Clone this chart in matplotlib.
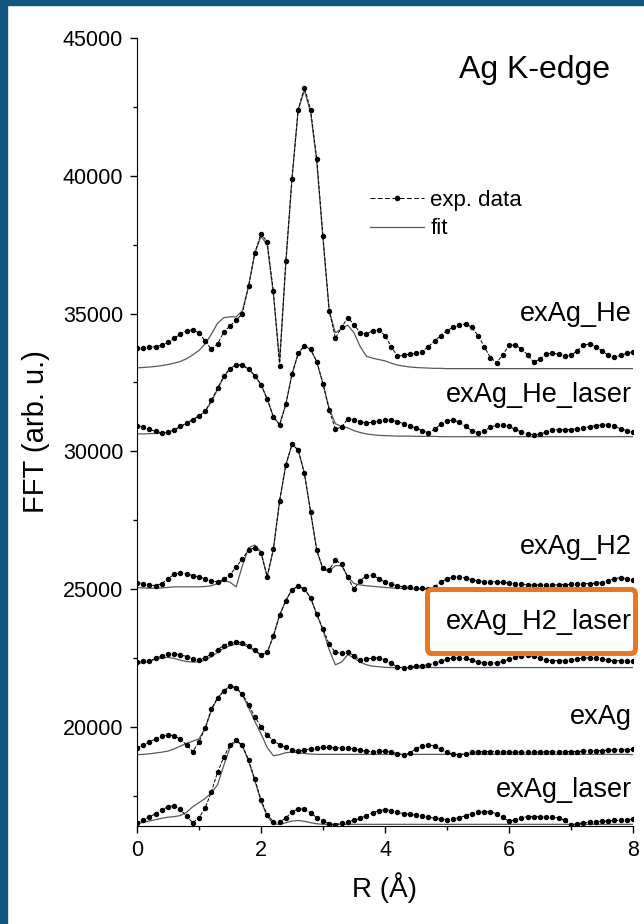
import numpy as np
import matplotlib
matplotlib.use('Agg')
import matplotlib.pyplot as plt
from matplotlib.patches import Rectangle, FancyBboxPatch
from matplotlib.lines import Line2D

plt.rcParams['font.family'] = ['Liberation Sans', 'DejaVu Sans']

# R grid (Angstrom), 0.1 step
r = np.round(np.arange(0, 81) * 0.1, 1)

# exAg_He
he_exp = [33750, 33750, 33770, 33800, 33850, 33950, 34100, 34250, 34380, 34400,
          34300, 34000, 33700, 33900, 34330, 34550, 34750, 35000, 36000, 37200,
          37900, 37600, 35800, 33100, 36900, 39900, 42400, 43200, 42400, 40600,
          37800, 35100, 34100, 34500, 34850, 34600, 34300, 34250, 34380, 34400,
          34200, 33800, 33450, 33480, 33530, 33560, 33620, 33800, 34000, 34200,
          34380, 34500, 34580, 34620, 34500, 34200, 33800, 33400, 33220, 33500,
          33850, 33850, 33720, 33500, 33230, 33350, 33530, 33570, 33520, 33450,
          33480, 33650, 33850, 33900, 33800, 33650, 33480, 33420, 33480, 33560,
          33620]
he_fit = [33030, 33040, 33060, 33080, 33110, 33150, 33200, 33260, 33360, 33500,
          33660, 33900, 34250, 34650, 34850, 34880, 34880, 35100, 36000, 37200,
          37800, 37500, 35700, 33300, 36800, 39900, 42400, 43100, 42300, 40500,
          37700, 35100, 34300, 34450, 34580, 34300, 33800, 33450, 33380, 33330,
          33280, 33200, 33130, 33090, 33060, 33040, 33030, 33020, 33010, 33010,
          33000, 33000, 33000, 33000, 33000, 33000, 33000, 33000, 33000, 33000,
          33000, 33000, 33000, 33000, 33000, 33000, 33000, 33000, 33000, 33000,
          33000, 33000, 33000, 33000, 33000, 33000, 33000, 33000, 33000, 33000,
          33000]

# exAg_He_laser
hel_exp = [30920, 30880, 30800, 30720, 30670, 30690, 30780, 30900, 31020, 31150,
           31280, 31450, 31850, 32300, 32720, 33000, 33130, 33120, 32980, 32750,
           32420, 31900, 31250, 30950, 31700, 32800, 33550, 33830, 33700, 33250,
           32450, 31500, 30800, 30880, 31180, 31150, 31080, 31030, 31050, 31100,
           31140, 31130, 31080, 31000, 30920, 30850, 30750, 30670, 30800, 30980,
           31100, 31140, 31050, 30900, 30750, 30680, 30750, 30870, 30950, 30960,
           30900, 30800, 30700, 30630, 30600, 30620, 30700, 30760, 30790, 30780,
           30790, 30820, 30850, 30890, 30930, 30960, 30960, 30900, 30820, 30750,
           30700]
hel_fit = [30630, 30630, 30640, 30650, 30660, 30690, 30780, 30900, 31020, 31150,
           31280, 31450, 31800, 32250, 32700, 33000, 33150, 33130, 32980, 32750,
           32420, 31900, 31250, 30980, 31700, 32800, 33550, 33830, 33700, 33250,
           32450, 31550, 31000, 30900, 30850, 30750, 30680, 30630, 30600, 30580,
           30570, 30560, 30550, 30550, 30550, 30540, 30540, 30540, 30540, 30530,
           30530, 30530, 30530, 30530, 30530, 30530, 30530, 30530, 30530, 30530,
           30530, 30530, 30530, 30530, 30530, 30530, 30530, 30530, 30530, 30530,
           30530, 30530, 30530, 30530, 30530, 30530, 30530, 30530, 30530, 30530,
           30530]

# exAg_H2
h2_exp = [25230, 25200, 25150, 25120, 25200, 25380, 25530, 25590, 25560, 25490,
          25440, 25380, 25300, 25260, 25350, 25520, 25800, 26100, 26420, 26500,
          26300, 25450, 26450, 28200, 29500, 30250, 30050, 29200, 27800, 26400,
          25750, 25700, 26050, 25900, 25420, 25000, 25300, 25480, 25500, 25380,
          25250, 25180, 25120, 25080, 25060, 25050, 25030, 24990, 25080, 25250,
          25380, 25420, 25430, 25400, 25340, 25300, 25270, 25260, 25260, 25240,
          25220, 25200, 25170, 25150, 25140, 25150, 25150, 25150, 25150, 25160,
          25170, 25180, 25190, 25200, 25210, 25230, 25300, 25380, 25410, 25380,
          25340]
h2_fit = [25050, 25040, 25030, 25030, 25040, 25060, 25080, 25080, 25080, 25080,
          25080, 25090, 25120, 25200, 25300, 25250, 25080, 25850, 26500, 26600,
          26350, 25450, 26450, 28200, 29500, 30250, 30050, 29200, 27800, 26400,
          25700, 25650, 25850, 25850, 25450, 25200, 25150, 25120, 25100, 25080,
          25060, 25040, 25030, 25020, 25010, 25000, 25000, 25000, 25000, 25000,
          25000, 25000, 25000, 25000, 25000, 25000, 25000, 25000, 25000, 25000,
          25000, 25000, 25000, 25000, 25000, 25000, 25000, 25000, 25000, 25000,
          25000, 25000, 25000, 25000, 25000, 25000, 25000, 25000, 25000, 25000,
          25000]

# exAg_H2_laser
h2l_exp = [22360, 22380, 22400, 22480, 22570, 22630, 22650, 22620, 22550, 22470,
           22430, 22500, 22650, 22800, 22950, 23050, 23080, 23050, 22950, 22780,
           22620, 22700, 23300, 24050, 24580, 24980, 25100, 25000, 24680, 24080,
           23550, 23000, 22700, 22680, 22720, 22580, 22420, 22450, 22500, 22500,
           22420, 22300, 22180, 22140, 22160, 22200, 22220, 22250, 22300, 22380,
           22450, 22500, 22500, 22480, 22420, 22360, 22320, 22310, 22320, 22380,
           22450, 22520, 22580, 22600, 22560, 22480, 22420, 22400, 22400, 22400,
           22420, 22460, 22500, 22500, 22480, 22450, 22420, 22400, 22400, 22400,
           22400]
h2l_fit = [22300, 22330, 22380, 22450, 22500, 22520, 22480, 22420, 22370, 22350,
           22360, 22420, 22550, 22700, 22850, 22950, 23000, 22980, 22900, 22750,
           22600, 22700, 23300, 24050, 24580, 24980, 25100, 25000, 24680, 24080,
           23500, 22800, 22250, 22350, 22620, 22500, 22350, 22250, 22200, 22180,
           22160, 22150, 22150, 22150, 22150, 22150, 22150, 22150, 22150, 22150,
           22150, 22150, 22150, 22150, 22150, 22150, 22150, 22150, 22150, 22150,
           22150, 22150, 22150, 22150, 22150, 22150, 22150, 22150, 22150, 22150,
           22150, 22150, 22150, 22150, 22150, 22150, 22150, 22150, 22150, 22150,
           22150]

# exAg
ag_exp = [19240, 19330, 19450, 19560, 19650, 19710, 19680, 19550, 19350, 19100,
          19450, 19950, 20650, 21050, 21300, 21480, 21420, 21180, 20800, 20370,
          20000, 19700, 19500, 19350, 19250, 19160, 19110, 19150, 19210, 19240,
          19250, 19250, 19240, 19240, 19230, 19200, 19150, 19110, 19100, 19110,
          19110, 19080, 19030, 18990, 19050, 19200, 19320, 19350, 19300, 19180,
          19070, 19000, 18990, 19030, 19070, 19090, 19100, 19100, 19100, 19090,
          19080, 19080, 19080, 19080, 19080, 19080, 19090, 19090, 19090, 19100,
          19100, 19100, 19110, 19120, 19130, 19140, 19150, 19160, 19170, 19170,
          19180]
ag_fit = [18990, 19000, 19020, 19050, 19080, 19120, 19200, 19300, 19400, 19480,
          19560, 19950, 20600, 21050, 21300, 21480, 21420, 21150, 20700, 20200,
          19750, 19250, 18950, 18990, 19060, 19080, 19060, 19030, 19010, 19000,
          19000, 19000, 19000, 19000, 19000, 19000, 19000, 19000, 19000, 19000,
          19000, 19000, 19000, 19000, 19000, 19000, 19000, 19000, 19000, 19000,
          19000, 19000, 19000, 19000, 19000, 19000, 19000, 19000, 19000, 19000,
          19000, 19000, 19000, 19000, 19000, 19000, 19000, 19000, 19000, 19000,
          19000, 19000, 19000, 19000, 19000, 19000, 19000, 19000, 19000, 19000,
          18990]

# exAg_laser
agl_exp = [16520, 16620, 16730, 16850, 16980, 17100, 17140, 17000, 16750, 16520,
           16700, 17050, 17650, 18350, 18900, 19350, 19520, 19330, 18800, 18100,
           17350, 16800, 16560, 16530, 16700, 16900, 17030, 17000, 16880, 16700,
           16580, 16480, 16450, 16500, 16560, 16610, 16680, 16780, 16880, 16960,
           16990, 16960, 16900, 16850, 16820, 16800, 16760, 16720, 16680, 16650,
           16630, 16650, 16700, 16780, 16850, 16900, 16920, 16910, 16850, 16720,
           16570, 16620, 16700, 16740, 16740, 16730, 16720, 16710, 16700, 16600,
           16430, 16480, 16520, 16540, 16560, 16570, 16580, 16600, 16610, 16620,
           16650]
agl_fit = [16480, 16530, 16580, 16630, 16680, 16720, 16740, 16780, 16900, 17100,
           17250, 17400, 17600, 17900, 18600, 19250, 19500, 19300, 18750, 18050,
           17300, 16750, 16480, 16460, 16520, 16580, 16600, 16570, 16520, 16480,
           16460, 16460, 16460, 16460, 16460, 16460, 16460, 16460, 16460, 16460,
           16460, 16460, 16460, 16460, 16460, 16460, 16460, 16460, 16460, 16460,
           16460, 16460, 16460, 16460, 16460, 16460, 16460, 16460, 16460, 16460,
           16460, 16460, 16460, 16460, 16460, 16460, 16460, 16460, 16460, 16460,
           16460, 16460, 16460, 16460, 16460, 16460, 16460, 16460, 16460, 16460,
           16460]

names = ['exAg_He', 'exAg_He_laser', 'exAg_H2', 'exAg_H2_laser', 'exAg', 'exAg_laser']
exps = [he_exp, hel_exp, h2_exp, h2l_exp, ag_exp, agl_exp]
fits = [he_fit, hel_fit, h2_fit, h2l_fit, ag_fit, agl_fit]
label_y = [35000, 32050, 26530, 23810, 20370, 17720]

fig = plt.figure(figsize=(6.44, 9.24), dpi=100)
ax = fig.add_axes([137 / 644, 1 - 826 / 924, 496 / 644, 788 / 924])

for e, f in zip(exps, fits):
    ax.plot(r, f, '-', color='0.35', lw=0.9, zorder=2)
    ax.plot(r, e, '--', color='k', lw=0.7, marker='o', ms=2.9, zorder=3)

for name, y in zip(names, label_y):
    ax.text(7.98, y, name, ha='right', va='center', fontsize=19.5)

ax.text(7.63, 43840, 'Ag K-edge', ha='right', va='center', fontsize=23)

handles = [Line2D([], [], ls=(0, (5, 2.5)), color='k', lw=0.7, marker='o', ms=3),
           Line2D([], [], ls='-', color='0.35', lw=0.9)]
ax.legend(handles, ['exp. data', 'fit'], loc='upper left',
          bbox_to_anchor=(0.43, 0.833), frameon=False, fontsize=16,
          handlelength=2.4, handletextpad=0.3, labelspacing=0.35)

ax.set_xlim(0, 8)
ax.set_ylim(16400, 45000)
ax.set_xticks([0, 2, 4, 6, 8])
ax.set_xticks([1, 3, 5, 7], minor=True)
ax.set_yticks([20000, 25000, 30000, 35000, 40000, 45000])
ax.set_yticks([17500, 22500, 27500, 32500, 37500, 42500], minor=True)
ax.tick_params(which='major', direction='out', length=5, width=1, labelsize=15.5, pad=5)
ax.tick_params(which='minor', direction='out', length=3, width=1)
for s in ['top', 'right']:
    ax.spines[s].set_visible(False)
ax.set_xlabel('R (Å)', fontsize=20, labelpad=8)
ax.set_ylabel('FFT (arb. u.)', fontsize=21, labelpad=9)

# blue frame strips and the orange highlight box
fig.patches.append(Rectangle((0, 1 - 5 / 924), 1, 5 / 924, transform=fig.transFigure,
                             color='#11567F', zorder=10))
fig.patches.append(Rectangle((0, 0), 7 / 644, 1, transform=fig.transFigure,
                             color='#11567F', zorder=10))
fig.patches.append(FancyBboxPatch((427.5 / 644, 1 - 653.5 / 924), 208 / 644, 64 / 924,
                                  boxstyle='round,pad=0,rounding_size=0.006',
                                  transform=fig.transFigure, fill=False,
                                  ec='#E87722', lw=3.6, zorder=10))

fig.savefig('out.png', dpi=100)
